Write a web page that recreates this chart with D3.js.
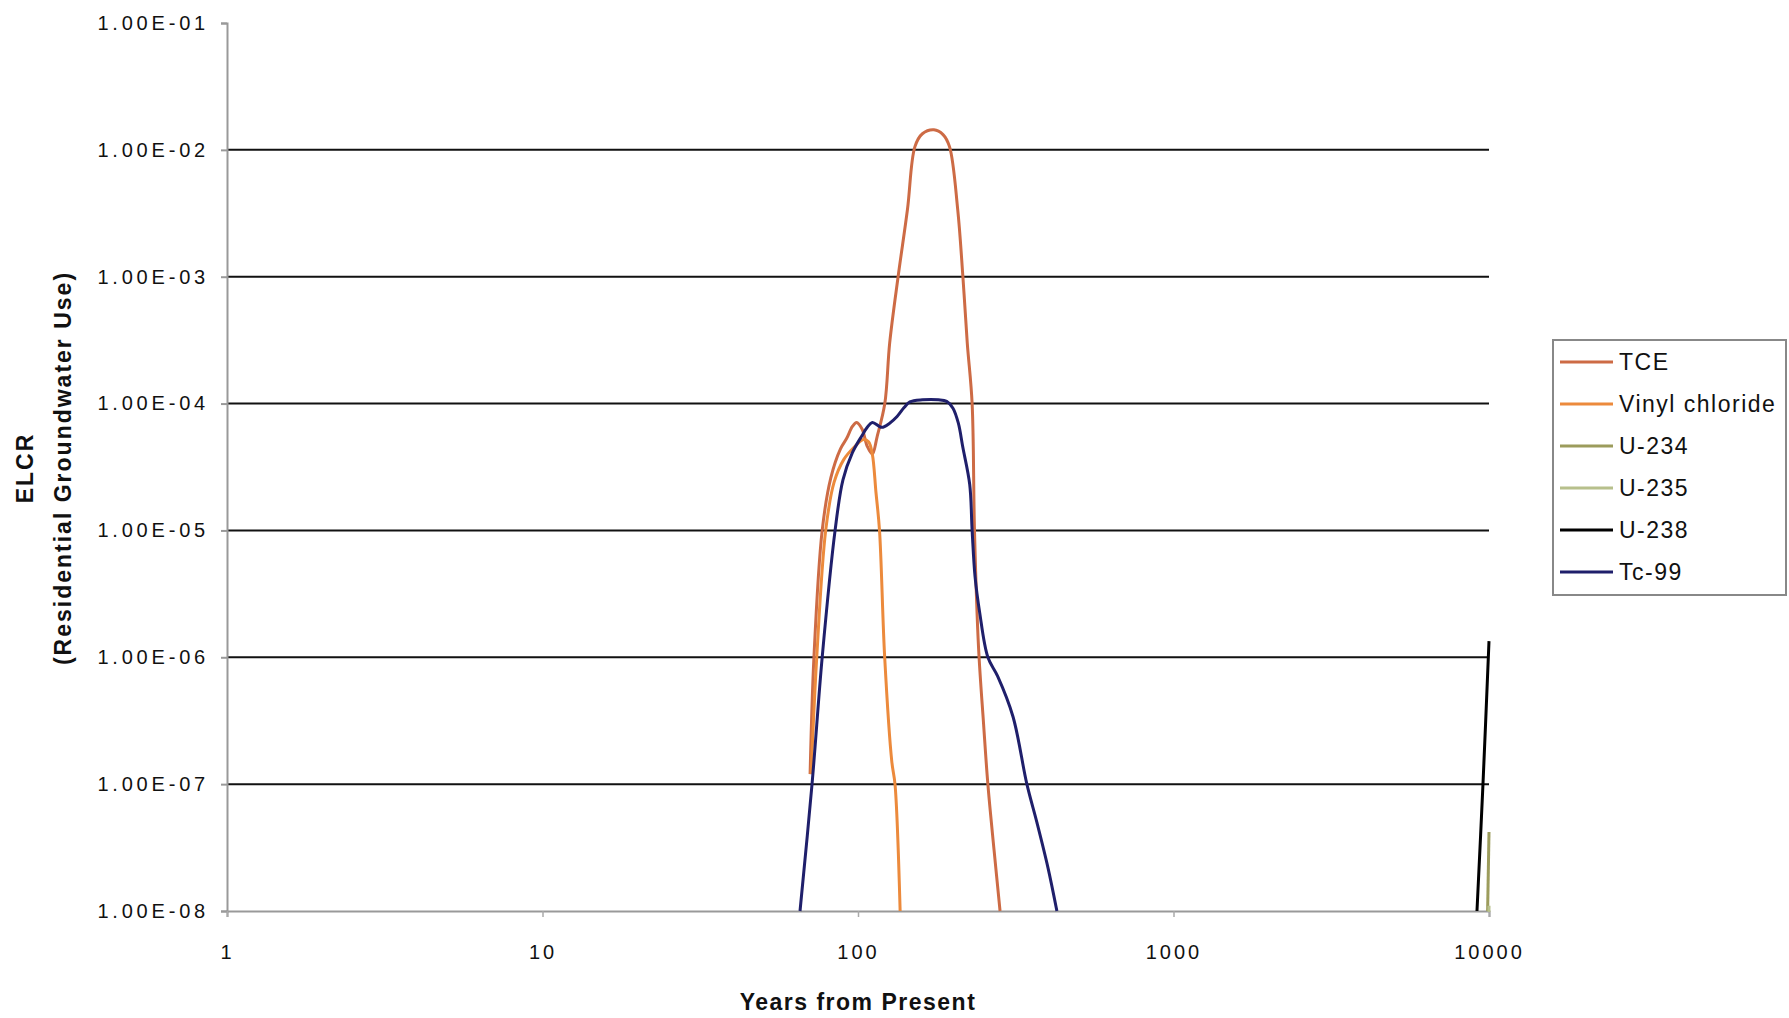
<!DOCTYPE html>
<html>
<head>
<meta charset="utf-8">
<script src="https://cdn.jsdelivr.net/npm/d3@7"></script>
<style>
  body { margin: 0; background: #fff; }
  text { font-family: "Liberation Sans", Arial, sans-serif; fill: #111; }
</style>
</head>
<body>
<script>
// series names and colours
var seriesNames = ["TCE", "Vinyl chloride", "U-234", "U-235", "U-238", "Tc-99"];
var seriesColors = ["#cd6b45", "#ec8a3c", "#9c9c5c", "#b7c08c", "#000000", "#1f1f6b"];

// values: [years, ELCR]
var tce = [[70.5,1.2e-7],[72.5,1e-6],[77,1e-5],[82,2.6e-5],[88,4.4e-5],[92,5.3e-5],[96,6.6e-5],
  [99,7.1e-5],[103,6.3e-5],[107,4.6e-5],[111,4.0e-5],[115,5.5e-5],[121.6,1e-4],[126,3e-4],
  [134,1e-3],[143.5,3.4e-3],[151.5,1.06e-2],[160,1.34e-2],[174,1.44e-2],
  [186,1.32e-2],[195,1.06e-2],[207,3.4e-3],[215,1e-3],[222,3e-4],[230,1e-4],[234,1e-5],
  [241,1.2e-6],[250,3e-7],[258,1e-7],[270,3e-8],[282,1e-8]];
var vinylChloride = [[71,1.2e-7],[74,1e-6],[79,1e-5],[84,2.4e-5],[90,3.6e-5],[97,4.5e-5],
  [104,5.2e-5],[108,5e-5],[111,4e-5],[114,2e-5],[117,1e-5],[121.5,1e-6],[128,1.5e-7],
  [131,1e-7],[136,1e-8]];
var u234 = [[9900,1e-8],[10000,4.2e-8]];
var u235 = [[9900,1e-9],[10000,1.1e-8]];
var u238 = [[9160,1e-8],[9570,1e-7],[10000,1.34e-6]];
var tc99 = [[65.5,1e-8],[71.5,1e-7],[77,1e-6],[84.6,1e-5],[89.6,2.5e-5],[96,4.1e-5],[103,5.6e-5],
  [107,6.5e-5],[111,7.1e-5],[119,6.5e-5],[126,7e-5],[133,7.9e-5],[140,9.3e-5],[146,1.03e-4],
  [160,1.07e-4],[180,1.07e-4],[191,1.04e-4],[200,9.2e-5],[208,7e-5],[215,4.5e-5],[226,2.3e-5],
  [230,1e-5],[235,4.3e-6],[243,2.26e-6],[258,1e-6],[277,7.1e-7],[310,3.4e-7],[343,1e-7],
  [369,5e-8],[400,2.2e-8],[427,1e-8]];

// tick values and labels
var xTicks = [1, 10, 100, 1000, 10000];
var xTickLabels = ["1", "10", "100", "1000", "10000"];
var yTicks = [1e-8, 1e-7, 1e-6, 1e-5, 1e-4, 1e-3, 1e-2, 1e-1];
var yTickLabels = ["1.00E-08", "1.00E-07", "1.00E-06", "1.00E-05", "1.00E-04", "1.00E-03", "1.00E-02", "1.00E-01"];

var allSeries = [tce, vinylChloride, u234, u235, u238, tc99];

var outerWidth = 1789, outerHeight = 1018;
var margin = {left: 227, right: 1489, top: 23, bottom: 911};

var svg = d3.select("body").append("svg")
    .attr("width", outerWidth)
    .attr("height", outerHeight);

svg.append("rect").attr("width", outerWidth).attr("height", outerHeight).attr("fill", "#fff");

var x = d3.scaleLog().domain([1, 10000]).range([margin.left, margin.right]);
var y = d3.scaleLog().domain([1e-8, 1e-1]).range([margin.bottom, margin.top]);

// gridlines (none on the top and bottom values)
svg.selectAll(".grid")
    .data(yTicks.filter(function(d) { return d > 1e-8 && d < 1e-1; }))
  .enter().append("line")
    .attr("class", "grid")
    .attr("x1", margin.left).attr("x2", margin.right)
    .attr("y1", function(d) { return y(d); })
    .attr("y2", function(d) { return y(d); })
    .attr("stroke", "#111")
    .attr("stroke-width", 2);

// y axis
var yAxis = svg.append("g")
    .attr("transform", "translate(" + margin.left + ",0)")
    .call(d3.axisLeft(y).tickValues(yTicks).tickSize(6).tickPadding(12)
      .tickFormat(function(d, i) { return yTickLabels[i]; }));
yAxis.select(".domain").attr("stroke", "#999").attr("stroke-width", 2);
yAxis.selectAll(".tick line").attr("stroke", "#999").attr("stroke-width", 2);
yAxis.selectAll("text")
    .attr("font-size", 20).attr("letter-spacing", 3.8)
    .attr("font-family", "Liberation Sans, Arial, sans-serif")
    .attr("fill", "#222");

// x axis
var xAxis = svg.append("g")
    .attr("transform", "translate(0," + margin.bottom + ")")
    .call(d3.axisBottom(x).tickValues(xTicks).tickSize(6).tickPadding(28)
      .tickFormat(function(d, i) { return xTickLabels[i]; }));
xAxis.select(".domain").attr("stroke", "#999").attr("stroke-width", 2);
xAxis.selectAll(".tick line").attr("stroke", "#aaa").attr("stroke-width", 1.5);
xAxis.selectAll("text")
    .attr("font-size", 20).attr("letter-spacing", 3)
    .attr("font-family", "Liberation Sans, Arial, sans-serif")
    .attr("fill", "#222");

// clip to plot area
svg.append("clipPath").attr("id", "plot")
  .append("rect").attr("x", margin.left).attr("y", margin.top - 5)
    .attr("width", margin.right - margin.left + 4).attr("height", margin.bottom - margin.top + 6);

// smoothed lines like the spreadsheet
var line = d3.line()
    .x(function(d) { return x(d[0]); })
    .y(function(d) { return y(Math.max(d[1], 1e-9)); })
    .curve(d3.curveCatmullRom.alpha(0.5));

svg.append("g").attr("clip-path", "url(#plot)")
  .selectAll(".series")
    .data(allSeries)
  .enter().append("path")
    .attr("class", "series")
    .attr("d", line)
    .attr("fill", "none")
    .attr("stroke", function(d, i) { return seriesColors[i]; })
    .attr("stroke-width", 3)
    .attr("stroke-linejoin", "round");

// axis titles
svg.append("text")
    .attr("x", (margin.left + margin.right) / 2).attr("y", 1010)
    .attr("text-anchor", "middle")
    .attr("font-size", 23).attr("font-weight", "bold").attr("letter-spacing", 1.5)
    .text("Years from Present");

var yTitle = svg.append("g").attr("transform", "translate(0,468) rotate(-90)");
yTitle.append("text")
    .attr("x", 0).attr("y", 33)
    .attr("text-anchor", "middle")
    .attr("font-size", 23).attr("font-weight", "bold").attr("letter-spacing", 2)
    .text("ELCR");
yTitle.append("text")
    .attr("x", 0).attr("y", 71)
    .attr("text-anchor", "middle")
    .attr("font-size", 23).attr("font-weight", "bold").attr("letter-spacing", 2)
    .text("(Residential Groundwater Use)");

// legend
var legend = svg.append("g");
legend.append("rect")
    .attr("x", 1553).attr("y", 340).attr("width", 233).attr("height", 255)
    .attr("fill", "#fff").attr("stroke", "#888").attr("stroke-width", 2);

var items = legend.selectAll(".item")
    .data(seriesNames)
  .enter().append("g")
    .attr("class", "item")
    .attr("transform", function(d, i) { return "translate(0," + (362 + i * 42) + ")"; });
items.append("line")
    .attr("x1", 1560).attr("x2", 1613)
    .attr("stroke", function(d, i) { return seriesColors[i]; })
    .attr("stroke-width", 3);
items.append("text")
    .attr("x", 1619).attr("dy", "0.35em")
    .attr("font-size", 23).attr("letter-spacing", 1.5)
    .text(function(d) { return d; });
</script>
</body>
</html>
